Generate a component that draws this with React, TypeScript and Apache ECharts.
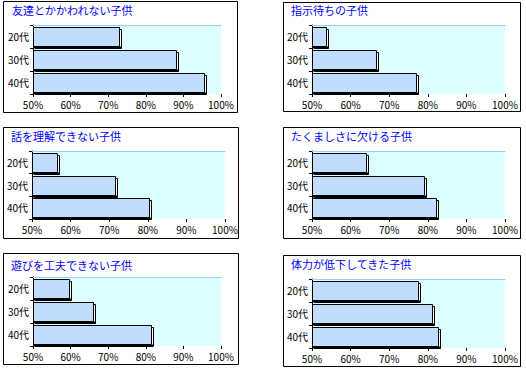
import React, { useEffect, useRef } from 'react';
import * as echarts from 'echarts';

const categories = ['20代', '30代', '40代'];
const titles = [
  '友達とかかわれない子供',
  '指示待ちの子供',
  '話を理解できない子供',
  'たくましさに欠ける子供',
  '遊びを工夫できない子供',
  '体力が低下してきた子供',
];
const valuesFriends = [0.73, 0.88, 0.955];
const valuesWaiting = [0.535, 0.665, 0.77];
const valuesUnderstand = [0.565, 0.715, 0.803];
const valuesTough = [0.64, 0.79, 0.82];
const valuesPlay = [0.595, 0.66, 0.815];
const valuesStamina = [0.775, 0.81, 0.827];
const axisMin = 0.5;
const axisMax = 1.0;
const axisStep = 0.1;

const panelValues = [valuesFriends, valuesWaiting, valuesUnderstand, valuesTough, valuesPlay, valuesStamina];

// layout (pixels)
const boxes = [
  { x: 3, y: 1, w: 234, h: 111 },
  { x: 283, y: 2, w: 237, h: 109 },
  { x: 3, y: 127, w: 235, h: 111 },
  { x: 283, y: 127, w: 237, h: 111 },
  { x: 3, y: 253, w: 235, h: 111 },
  { x: 283, y: 255, w: 237, h: 111 },
];
const grids = [
  { left: 33, top: 25, width: 188, height: 69 },
  { left: 312, top: 25, width: 193, height: 69 },
  { left: 32, top: 151, width: 193, height: 68 },
  { left: 312, top: 151, width: 193, height: 68 },
  { left: 33, top: 277, width: 188, height: 69 },
  { left: 312, top: 279, width: 193, height: 69 },
];
const titlePos = [
  { left: 12, top: 4 },
  { left: 291, top: 4 },
  { left: 11, top: 130 },
  { left: 291, top: 130 },
  { left: 11, top: 259 },
  { left: 291, top: 258 },
];

const FONT = '"Noto Sans CJK JP", "Noto Sans", sans-serif';

export default function App() {
  const ref = useRef<HTMLDivElement>(null);
  useEffect(() => {
    if (!ref.current) return;
    const chart = echarts.init(ref.current, null, { renderer: 'svg' });
    const option: any = {
      animation: false,
      backgroundColor: '#ffffff',
      title: titles.map((t, i) => ({
        text: t,
        left: titlePos[i].left,
        top: titlePos[i].top,
        padding: 0,
        textStyle: { color: '#0000FF', fontSize: 11, fontWeight: 'normal', fontFamily: FONT },
      })),
      graphic: boxes.map((b) => ({
        type: 'rect',
        shape: { x: b.x + 0.5, y: b.y + 0.5, width: b.w, height: b.h },
        style: { fill: 'none', stroke: '#000', lineWidth: 1 },
        z: 100,
      })),
      grid: grids.map((g) => ({
        ...g,
        show: true,
        backgroundColor: '#DCFFFF',
        borderWidth: 0,
        containLabel: false,
      })),
      xAxis: [
        ...grids.map((_, i) => ({
          type: 'value',
          gridIndex: i,
          min: axisMin,
          max: axisMax,
          interval: axisStep,
          position: 'bottom',
          axisLine: { show: false },
          axisTick: { show: true, length: 3, lineStyle: { color: '#000' } },
          splitLine: { show: false },
          axisLabel: {
            color: '#000',
            fontSize: 10,
            fontFamily: FONT,
            margin: 5,
            formatter: (v: number) => Math.round(v * 100) + '%',
          },
        })),
        ...grids.map((_, i) => ({
          type: 'value',
          gridIndex: i,
          min: axisMin,
          max: axisMax,
          interval: axisStep,
          position: 'top',
          axisLine: { show: true, lineStyle: { color: '#99CCFF', width: 1 } },
          axisTick: { show: false },
          axisLabel: { show: false },
          splitLine: { show: false },
        })),
      ],
      yAxis: grids.map((_, i) => ({
        type: 'category',
        gridIndex: i,
        data: categories,
        inverse: true,
        axisLine: { show: true, lineStyle: { color: '#000', width: 1 } },
        axisTick: { show: true, length: 3, lineStyle: { color: '#000' } },
        axisLabel: { color: '#000', fontSize: 10, fontFamily: FONT, margin: 4 },
        splitLine: { show: false },
      })),
      series: panelValues.map((vals, i) => ({
        type: 'custom',
        xAxisIndex: i,
        yAxisIndex: i,
        data: vals.map((v, j) => [v, j]),
        renderItem: (params: any, api: any) => {
          const v = api.value(0);
          const c = api.value(1);
          const start = api.coord([axisMin, c]);
          const end = api.coord([v, c]);
          const band = api.size([0, 1])[1];
          const h = Math.round(band * 0.84);
          const x0 = Math.round(start[0]) + 0.5;
          const x1 = Math.round(end[0]) + 0.5;
          const y0 = Math.round(end[1] - h / 2) + 0.5;
          const w = x1 - x0;
          return {
            type: 'group',
            children: [
              {
                type: 'rect',
                shape: { x: x0 + 2, y: y0 + 2, width: w, height: h },
                style: { fill: '#fff', stroke: '#000', lineWidth: 1 },
              },
              {
                type: 'rect',
                shape: { x: x0 + 0.5, y: y0 + h, width: w + 1.5, height: 2 },
                style: { fill: '#000', stroke: null },
              },
              {
                type: 'rect',
                shape: { x: x0, y: y0, width: w, height: h },
                style: { fill: '#BFDDFF', stroke: '#000', lineWidth: 1 },
              },
            ],
          };
        },
      })),
    };
    chart.setOption(option);
    return () => chart.dispose();
  }, []);
  return (
    <div
      ref={ref}
      style={{ position: 'absolute', left: 0, top: 0, width: 526, height: 370, background: '#fff' }}
    />
  );
}
